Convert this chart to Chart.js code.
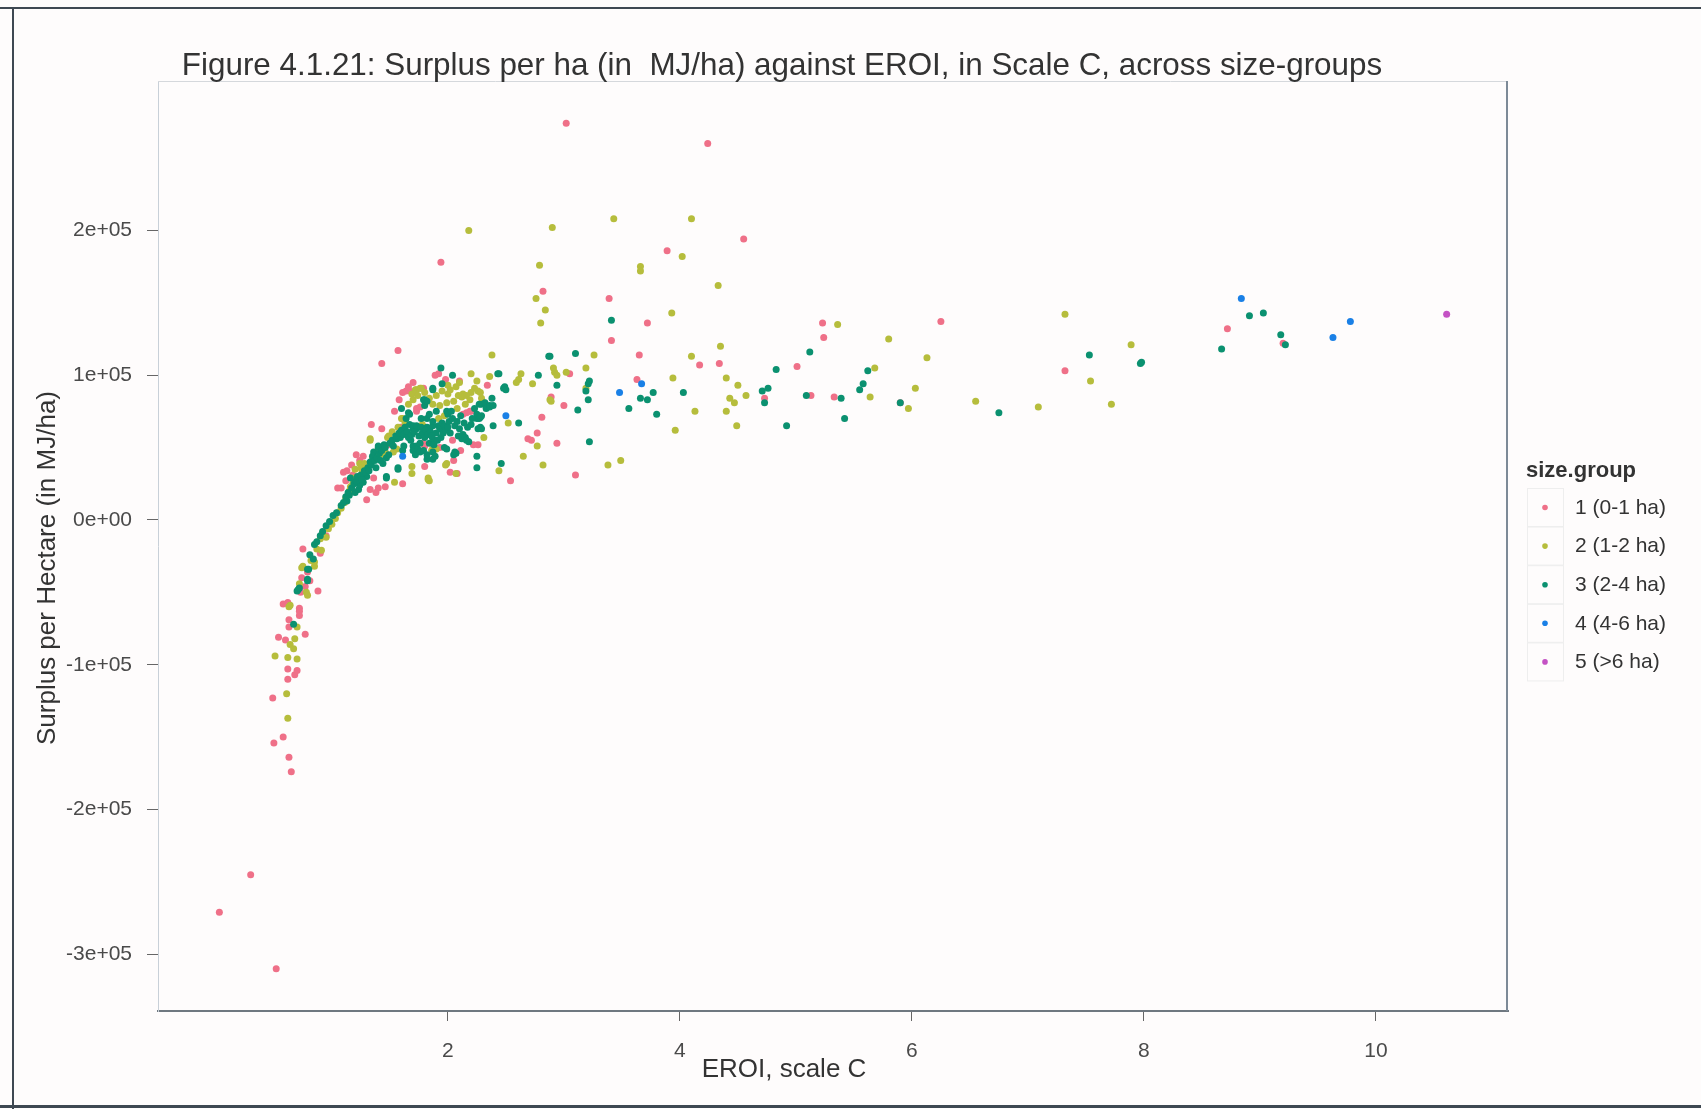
<!DOCTYPE html>
<html lang="en">
<head>
<meta charset="UTF-8" />
<title>Surplus per ha against EROI</title>
<script src="https://cdn.jsdelivr.net/npm/chart.js@4.4.0/dist/chart.umd.min.js"></script>
<style>
  body { margin: 0; background: #fefcfc; }
  #wrap { position: relative; width: 1701px; height: 1109px; overflow: hidden; }
  #chart { position: absolute; left: 0; top: 0; }
  .rule { position: absolute; background: #3e4852; }
</style>
</head>
<body>
<div id="wrap">
  <canvas id="chart" width="1701" height="1109"></canvas>
  <div class="rule" style="left:0; top:7px; width:1701px; height:2px"></div>
  <div class="rule" style="left:12px; top:7px; width:2px; height:1102px"></div>
  <div class="rule" style="left:0; top:1105px; width:1701px; height:3px"></div>
</div>
<script>
  const titleText = "Figure 4.1.21: Surplus per ha (in  MJ/ha) against EROI, in Scale C, across size-groups";
  const xTitle = "EROI, scale C";
  const yTitle = "Surplus per Hectare (in MJ/ha)";
  const legendTitle = "size.group";

  const groups = ["1 (0-1 ha)", "2 (1-2 ha)", "3 (2-4 ha)", "4 (4-6 ha)", "5 (>6 ha)"];
  const colors = ["#ef7088", "#b6bd3c", "#0b9170", "#1a80e6", "#c452c4"];

  const xTicks = [2, 4, 6, 8, 10];
  const yTicks = [-300000, -200000, -100000, 0, 100000, 200000];
  const yTickLabels = ["-3e+05", "-2e+05", "-1e+05", "0e+00", "1e+05", "2e+05"];

  // [EROI, surplus in thousand MJ/ha]
  const group1 = [
    [0.03,-271],[0.30,-245],[0.52,-310],[0.65,-174],[0.63,-164],[0.50,-154],[0.58,-150],[0.49,-123],
    [0.62,-110],[0.62,-103],[0.68,-107],[0.70,-104],[0.54,-81],[0.60,-83],[0.77,-79],[0.63,-74],
    [0.63,-69],[0.72,-61],[0.72,-63],[0.72,-66],[0.58,-58],[0.62,-57],[0.88,-49],[0.73,-50],
    [0.81,-42],[0.77,-46],[0.74,-40],[0.79,-36],[0.95,-11],[0.75,-20],[0.90,-23],
    [1.05,22],[1.08,22],[1.10,33],[1.13,34],[1.17,38],[1.21,45],[1.27,44],[1.30,14],[1.38,19],
    [1.40,22],[1.33,21],[1.34,66],[1.43,63],[1.49,52],[1.54,75],[1.59,64],[1.61,25],[1.80,37],
    [1.80,51],[1.79,53],[1.93,50],[1.61,88],[1.64,89],[1.67,89],[1.70,95],[1.73,77],[1.73,75],
    [1.76,78],[1.79,91],[1.89,100],[1.92,101],[1.43,108],[1.57,117],[2.10,96],[2.34,93],
    [2.13,73],[2.16,74],[2.19,75],[2.20,75],[2.22,52],[2.26,52],[2.02,33],[2.05,41],[2.08,32],
    [2.54,27],[2.69,56],[2.72,55],[2.77,60],[2.81,71],[2.94,53],[2.89,85],[3.00,79],[3.05,101],
    [3.10,31],[3.63,97],
    [1.18,31],[1.24,41],[1.36,29],[1.46,23],[1.12,27],[1.58,83],[1.66,92],[1.98,97],[2.04,55],
    [2.11,48],
    [3.02,274],[4.24,260],[1.94,178],[3.89,186],[4.55,194],[2.82,158],[3.39,153],[3.72,136],
    [3.41,124],[3.65,114],[5.23,136],[6.25,137],[5.24,126],[4.17,107],[4.34,108],[5.01,106],
    [4.73,84],[5.13,86],[5.33,85],[5.90,81],[7.32,103],[8.72,132],[9.20,122]
  ];
  const group2 = [
    [0.62,-137],[0.61,-120],[0.51,-94],[0.62,-95],[0.70,-96],[0.64,-86],[0.67,-89],[0.68,-82],
    [0.70,-74],[0.63,-60],[0.64,-59],[0.78,-50],[0.79,-52],[0.72,-44],[0.74,-33],[0.75,-32],
    [0.85,-32],[0.82,-28],[0.85,-29],[0.87,-20],[0.91,-21],[0.90,-13],[0.92,-9],[0.95,-12],
    [0.97,-6],[1.00,-3],[1.03,1],[1.05,5],
    [1.12,15],[1.15,20],[1.18,25],[1.23,27],[1.20,35],[1.24,39],[1.26,34],[1.28,39],[1.35,42],
    [1.42,45],[1.46,47],[1.53,47],[1.56,49],[1.33,56],[1.33,55],[1.49,58],[1.48,57],[1.54,26],
    [1.60,70],[1.61,70],[1.69,37],[1.69,32],[1.83,28],[1.84,27],[1.83,29],[1.87,49],[1.86,48],
    [1.90,49],[1.69,87],[1.73,90],[1.72,90],[1.76,91],[1.77,91],[1.87,80],[1.93,79],[1.99,81],
    [2.05,82],[1.99,39],[1.98,38],[2.07,32],[2.00,93],[2.00,87],
    [1.08,8],[1.11,12],[1.16,23],[1.19,29],[1.25,36],[1.30,38],[1.38,47],[1.44,50],[1.52,61],
    [1.57,64],[1.63,67],[1.66,80],[1.70,83],[1.74,86],[1.80,88],[1.84,84],[1.90,86],[1.95,89],
    [2.02,90],[2.07,92],[2.10,95],[1.78,66],[1.92,70],[1.97,72],[2.08,77],[2.15,80],[2.19,83],
    [2.25,96],
    [2.20,101],[2.36,99],[2.38,114],[2.63,101],[2.59,95],[2.61,97],[2.73,94],[2.23,91],[2.26,89],
    [2.28,88],[2.20,88],[2.13,87],[2.12,85],[2.16,86],[2.09,86],[2.29,84],[2.31,81],[2.31,57],
    [2.52,67],[2.77,51],[2.65,44],[2.82,38],[2.44,34],[2.91,105],[2.92,102],[2.94,100],[3.02,102],
    [3.19,105],[3.19,91],[2.88,83],[2.89,82],
    [2.18,200],[2.90,202],[3.43,208],[4.10,208],[4.02,182],[2.79,176],[3.66,175],[3.66,172],
    [2.76,153],[4.33,162],[2.84,145],[3.93,143],[2.80,136],[3.26,114],[4.35,120],[5.36,135],
    [7.32,142],[5.80,125],[6.13,112],[4.10,113],[5.68,105],[3.94,98],[4.40,98],[6.03,91],
    [4.50,93],[4.57,86],[4.43,84],[4.47,81],[5.64,85],[5.97,77],[6.55,82],[7.09,78],[4.13,75],
    [4.40,75],[4.49,65],[3.96,62],[7.89,121],[7.54,96],[7.72,80],[3.38,38],[3.49,41]
  ];
  const group3 = [
    [0.67,-72],[0.70,-49],[0.71,-48],[0.72,-47],[0.79,-41],[0.79,-42],[0.80,-34],[0.79,-34],
    [0.81,-24],[0.84,-27],[0.85,-17],[0.87,-15],[0.90,-11],[0.92,-8],[0.95,-4],[0.98,-1],
    [1.01,3],[1.04,5],[1.08,10],[1.13,13],[1.15,17],[1.16,29],[1.20,19],[1.23,21],[1.24,24],
    [1.27,26],[1.30,30],[1.28,34],[1.33,40],[1.36,47],[1.38,36],[1.40,51],[1.40,50],[1.44,39],
    [1.47,43],[1.47,30],[1.47,29],[1.49,45],[1.56,56],[1.59,57],[1.57,35],[1.57,36],[1.60,77],
    [1.62,51],[1.61,48],[1.64,70],[1.66,74],[1.67,66],[1.67,73],[1.70,65],[1.70,63],[1.70,51],
    [1.70,48],[1.72,45],[1.73,63],[1.73,65],[1.73,51],[1.74,49],[1.76,53],[1.76,47],[1.77,64],
    [1.77,70],[1.79,48],[1.79,83],[1.80,83],[1.80,79],[1.82,42],[1.82,64],[1.82,70],[1.82,82],
    [1.82,45],[1.84,63],[1.84,53],[1.84,73],[1.87,42],[1.87,56],[1.87,65],[1.87,47],[1.87,68],
    [1.87,91],[1.87,90],[1.89,44],[1.90,60],[1.90,75],[1.92,65],[1.93,63],[1.94,105],[1.95,94],
    [1.95,67],[1.97,65],[1.97,50],[1.99,49],[1.99,75],[2.00,73],[2.02,60],[2.03,75],[2.04,100],
    [2.05,45],[2.06,65],[2.06,47],[2.07,46],[2.09,58],[2.12,56],[2.13,59],[2.15,57],[2.16,55],
    [2.18,54],[2.23,77],[2.25,70],[2.25,73],[2.25,44],[2.25,36],[2.26,63],[2.27,80],[2.27,70],
    [2.28,71],[2.28,64],[2.29,80],[2.29,72],[2.29,63],[2.32,81],[2.33,77],[2.36,79],[2.36,78],
    [2.38,84],[2.39,79],[2.39,65],[2.43,101],[2.44,101],[2.46,39],[2.48,91],[2.49,92],[2.50,90],
    [1.10,12],[1.12,16],[1.14,19],[1.17,22],[1.19,25],[1.21,27],[1.22,30],[1.25,31],[1.26,28],
    [1.29,33],[1.31,36],[1.32,34],[1.34,38],[1.35,44],[1.37,41],[1.39,43],[1.41,46],[1.42,41],
    [1.43,48],[1.45,52],[1.46,50],[1.50,53],[1.52,55],[1.53,51],[1.55,58],[1.58,60],[1.60,62],
    [1.62,59],[1.63,64],[1.65,61],[1.66,57],[1.68,55],[1.69,59],[1.71,61],[1.75,58],[1.78,60],
    [1.80,57],[1.81,62],[1.83,59],[1.85,61],[1.86,58],[1.88,52],[1.91,55],[1.94,57],[1.96,60],
    [1.98,62],[2.00,64],[2.01,68],[2.04,70],[2.08,68],[2.10,63],[2.11,72],[2.14,67],[2.17,64],
    [2.20,66],[2.21,70],
    [2.61,67],[2.78,100],[2.87,113],[2.88,113],[2.94,93],[3.10,115],[3.12,76],[3.21,94],[3.21,83],
    [3.22,54],[3.41,138],[3.22,96],[3.19,89],[3.56,77],[3.66,84],[3.72,83],[3.77,88],[3.80,73],
    [4.03,88],
    [4.71,89],[4.76,91],[4.73,81],[4.83,104],[5.12,116],[5.09,86],[5.39,84],[5.42,70],[4.92,65],
    [5.62,103],[5.58,94],[5.55,90],[5.90,81],[6.75,74],[7.53,114],[7.98,109],[7.97,108],[8.67,118],
    [8.91,141],[9.03,143],[9.18,128],[9.22,121]
  ];
  const group4 = [[1.61,44],[2.50,72],[3.48,88],[3.67,94],[8.84,153],[9.63,126],[9.78,137]];
  const group5 = [[10.61,142]];

  const allGroups = [group1, group2, group3, group4, group5];

  // ggplot-style 5% expansion of the data range
  function expand(vals) {
    const lo = Math.min(...vals), hi = Math.max(...vals);
    const pad = (hi - lo) * 0.05;
    return [lo - pad, hi + pad];
  }
  const allPts = allGroups.flat();
  const xRange = expand(allPts.map(p => p[0]));
  const yRange = expand(allPts.map(p => p[1] * 1000));

  const datasets = allGroups.map((g, i) => ({
    label: groups[i],
    data: g.map(p => ({ x: p[0], y: p[1] * 1000 })),
    backgroundColor: colors[i],
    borderWidth: 0,
    pointRadius: 3.5,
    pointHoverRadius: 3.5,
    order: allGroups.length - i
  }));

  const font = "Liberation Sans";

  const decorations = {
    id: "decorations",
    afterDraw(chart) {
      const ctx = chart.ctx;
      const a = chart.chartArea;
      ctx.save();

      // light top edge and darker right edge of the panel
      ctx.strokeStyle = "#d5d8dc";
      ctx.lineWidth = 1;
      ctx.beginPath();
      ctx.moveTo(a.left, a.top + 0.5);
      ctx.lineTo(a.right, a.top + 0.5);
      ctx.stroke();
      ctx.strokeStyle = "#7d8a97";
      ctx.lineWidth = 2;
      ctx.beginPath();
      ctx.moveTo(a.right - 1, a.top);
      ctx.lineTo(a.right - 1, a.bottom);
      ctx.stroke();

      ctx.fillStyle = "#333";
      ctx.textAlign = "center";
      ctx.textBaseline = "alphabetic";
      ctx.font = "31.4px '" + font + "'";
      ctx.fillText(titleText, 782, 75);

      ctx.textBaseline = "middle";
      ctx.font = "26px '" + font + "'";
      ctx.fillText(xTitle, 784, 1070);
      ctx.save();
      ctx.translate(48, 568);
      ctx.rotate(-Math.PI / 2);
      ctx.fillText(yTitle, 0, 0);
      ctx.restore();

      // legend
      ctx.textAlign = "left";
      ctx.font = "bold 22px '" + font + "'";
      ctx.fillStyle = "#333";
      ctx.fillText(legendTitle, 1526, 471);
      ctx.font = "21px '" + font + "'";
      chart.data.datasets.forEach((ds, i) => {
        const top = 488 + i * 38.6;
        ctx.strokeStyle = "#eeeeee";
        ctx.lineWidth = 1;
        ctx.strokeRect(1527.5, top + 0.5, 36, 38);
        ctx.fillStyle = ds.backgroundColor;
        ctx.beginPath();
        ctx.arc(1545, top + 19.5, 2.8, 0, Math.PI * 2);
        ctx.fill();
        ctx.fillStyle = "#333";
        ctx.fillText(ds.label, 1575, top + 20);
      });
      ctx.restore();
    }
  };

  new Chart(document.getElementById("chart"), {
    type: "scatter",
    data: { datasets },
    plugins: [decorations],
    options: {
      responsive: false,
      animation: false,
      layout: { padding: { top: 81, right: 193, left: 0, bottom: 0 } },
      plugins: { legend: { display: false }, tooltip: { enabled: false } },
      scales: {
        x: {
          type: "linear",
          position: "bottom",
          min: xRange[0],
          max: xRange[1],
          afterBuildTicks: s => { s.ticks = xTicks.map(v => ({ value: v })); },
          afterFit: s => { s.height = 98; },
          grid: { drawOnChartArea: false, tickLength: 10, tickColor: "#666", tickWidth: 1 },
          border: { display: true, color: "#6f7880", width: 2 },
          ticks: { font: { family: font, size: 21 }, color: "#4a4a4a", padding: 18, maxRotation: 0 }
        },
        y: {
          type: "linear",
          min: yRange[0],
          max: yRange[1],
          afterBuildTicks: s => { s.ticks = yTicks.map(v => ({ value: v })); },
          afterFit: s => { s.width = 158; },
          grid: { drawOnChartArea: false, tickLength: 11, tickColor: "#666", tickWidth: 1 },
          border: { display: true, color: "#c8d0d8", width: 1 },
          ticks: {
            font: { family: font, size: 21 },
            color: "#4a4a4a",
            padding: 15,
            callback: v => yTickLabels[yTicks.indexOf(v)]
          }
        }
      }
    }
  });
</script>
</body>
</html>
